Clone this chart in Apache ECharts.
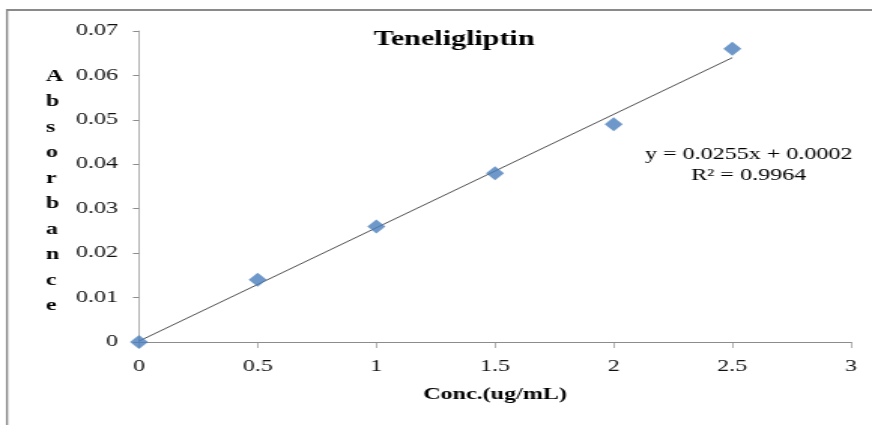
<!DOCTYPE html>
<html><head><meta charset="utf-8">
<script src="https://cdn.jsdelivr.net/npm/echarts@6/dist/echarts.min.js"></script>
<style>html,body{margin:0;padding:0;background:#fff;overflow:hidden}
#wrap{width:872px;height:425px;overflow:hidden}
#c{width:580px;height:425px;transform:scaleX(1.50345);transform-origin:0 0}</style>
</head><body><div id="wrap"><div id="c"></div></div>
<script>
const concX = [0, 0.5, 1, 1.5, 2, 2.5];
const absorbance = [0, 0.014, 0.026, 0.038, 0.049, 0.066];
const trendX = [0, 2.5];
const trendY = [0.0002, 0.0640];
const xTicks = [0, 0.5, 1, 1.5, 2, 2.5, 3];
const yTicks = [0, 0.01, 0.02, 0.03, 0.04, 0.05, 0.06, 0.07];
const titleText = 'Teneligliptin';
const eqLine1 = 'y = 0.0255x + 0.0002';
const eqLine2 = 'R² = 0.9964';

const serif = '"Liberation Serif", "DejaVu Serif", serif';
const chart = echarts.init(document.getElementById('c'));
chart.setOption({
  animation: false,
  backgroundColor: '#fff',
  title: {
    text: titleText, left: 297, top: 25, textAlign: 'center',
    textStyle: {fontFamily: serif, fontSize: 20, fontWeight: 'bold', color: '#000'}
  },
  grid: {left: 92.46, right: 13.97, top: 31, bottom: 83},
  xAxis: {
    type: 'value', min: 0, max: 3, interval: 0.5,
    name: 'Conc.(ug/mL)', nameLocation: 'middle', nameGap: 45,
    nameTextStyle: {fontFamily: serif, fontSize: 16, fontWeight: 'bold', color: '#000'},
    axisLine: {show: true, lineStyle: {color: '#8c8c8c', width: 1}},
    axisTick: {show: true, inside: false, length: 6, lineStyle: {color: '#8c8c8c', width: 0.7}},
    axisLabel: {fontFamily: serif, fontSize: 16, color: '#111', margin: 17,
      formatter: v => xTicks.includes(v) ? String(v) : ''},
    splitLine: {show: false}
  },
  yAxis: {
    type: 'value', min: 0, max: 0.07, interval: 0.01,
    axisLine: {show: true, lineStyle: {color: '#8c8c8c', width: 0.7}},
    axisTick: {show: true, inside: false, length: 4, lineStyle: {color: '#8c8c8c', width: 1}},
    axisLabel: {fontFamily: serif, fontSize: 16, color: '#111', margin: 14,
      formatter: v => { const m = yTicks.find(t => Math.abs(t - v) < 1e-9); return m === undefined ? '' : String(m); }},
    splitLine: {show: false}
  },
  graphic: [
    {type: 'line', silent: true, shape: {x1: 4.66, y1: 10, x2: 600, y2: 10},
      style: {stroke: '#8a8a8a', lineWidth: 2}},
    {type: 'line', silent: true, shape: {x1: 4.66, y1: 9, x2: 4.66, y2: 430},
      style: {stroke: '#8a8a8a', lineWidth: 1.33}},
    {type: 'text', left: 30.5, top: 64, silent: true,
      style: {text: 'A\nb\ns\no\nr\nb\na\nn\nc\ne', fontFamily: serif, fontSize: 16, fontWeight: 'bold',
        fill: '#000', lineHeight: 25.5, align: 'center', x: 6}},
    {type: 'text', x: 497.9, y: 155, silent: true,
      style: {text: eqLine1, fontFamily: serif, fontSize: 16, fill: '#000', align: 'center', verticalAlign: 'middle'}},
    {type: 'text', x: 497.9, y: 176, silent: true,
      style: {text: eqLine2, fontFamily: serif, fontSize: 16, fill: '#000', align: 'center', verticalAlign: 'middle'}}
  ],
  series: [
    {type: 'line', data: trendX.map((x, i) => [x, trendY[i]]), symbol: 'none',
      lineStyle: {color: '#222', width: 0.8}, z: 2},
    {type: 'scatter', data: concX.map((x, i) => [x, absorbance[i]]), symbol: 'diamond',
      symbolSize: [12, 14], itemStyle: {color: '#4a7ebb'}, z: 3}
  ]
});
</script></body></html>
